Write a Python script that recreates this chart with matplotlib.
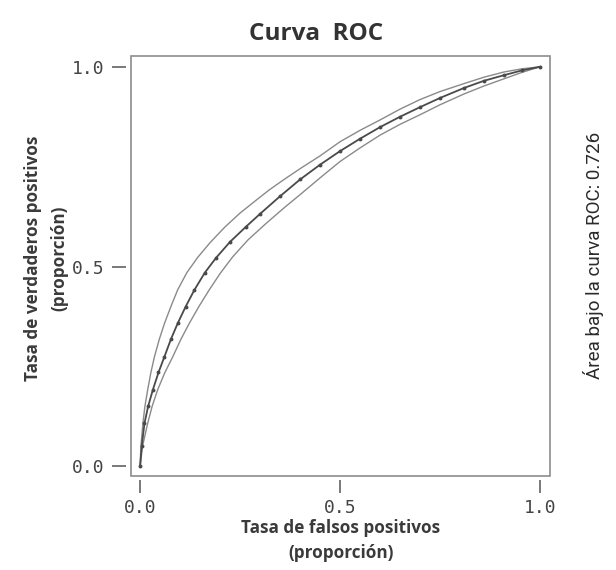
import matplotlib
matplotlib.use("Agg")
from matplotlib import pyplot as plt
from matplotlib.patches import Rectangle

# ROC curve (false positive rate, true positive rate)
fpr_mid = [0, 0.004, 0.011, 0.02, 0.032, 0.046, 0.061, 0.077, 0.094, 0.114,
           0.136, 0.162, 0.19, 0.225, 0.265, 0.30, 0.35, 0.40, 0.45, 0.50,
           0.55, 0.60, 0.65, 0.70, 0.75, 0.81, 0.86, 0.91, 0.955, 1.0]
tpr_mid = [0, 0.05, 0.108, 0.15, 0.192, 0.235, 0.275, 0.318, 0.358, 0.40,
           0.442, 0.485, 0.522, 0.562, 0.60, 0.632, 0.676, 0.718, 0.755, 0.789,
           0.82, 0.849, 0.875, 0.899, 0.922, 0.947, 0.965, 0.979, 0.991, 1.0]

# upper confidence line
fpr_up = [0, 0.002, 0.007, 0.012, 0.019, 0.027, 0.036, 0.048, 0.061, 0.077,
          0.094, 0.117, 0.144, 0.175, 0.211, 0.25, 0.29, 0.323, 0.36, 0.40,
          0.45, 0.50, 0.55, 0.60, 0.65, 0.70, 0.75, 0.81, 0.86, 0.91, 0.955, 1.0]
tpr_up = [0, 0.05, 0.108, 0.15, 0.192, 0.235, 0.275, 0.318, 0.358, 0.40,
          0.442, 0.485, 0.523, 0.56, 0.598, 0.634, 0.666, 0.692, 0.718, 0.745,
          0.777, 0.8125, 0.841, 0.867, 0.894, 0.918, 0.938, 0.958, 0.974, 0.987, 0.995, 1.0]

# lower confidence line
fpr_lo = [0, 0.006, 0.019, 0.03, 0.044, 0.062, 0.082, 0.102, 0.123, 0.147,
          0.173, 0.201, 0.232, 0.27, 0.315, 0.36, 0.40, 0.45, 0.50, 0.55,
          0.60, 0.65, 0.70, 0.75, 0.81, 0.86, 0.91, 0.955, 1.0]
tpr_lo = [0, 0.05, 0.108, 0.15, 0.192, 0.235, 0.275, 0.318, 0.358, 0.40,
          0.442, 0.484, 0.525, 0.567, 0.608, 0.647, 0.68, 0.722, 0.763, 0.797,
          0.829, 0.856, 0.88, 0.905, 0.932, 0.952, 0.97, 0.986, 1.0]

ticks = [0.0, 0.5, 1.0]
tick_labels = ["0.0", "0.5", "1.0"]
auc = 0.726

fig = plt.figure(figsize=(6.16, 5.7), dpi=100)
ax = fig.add_axes([130.5 / 616, 1 - 476 / 570, 419.5 / 616, 420 / 570])

ax.plot(fpr_up, tpr_up, color="#8a8a8a", lw=1.0)
ax.plot(fpr_lo, tpr_lo, color="#8a8a8a", lw=1.0)
ax.plot(fpr_mid, tpr_mid, color="#4a4a4a", lw=1.3, marker="o", ms=1.8,
        mfc="#4a4a4a", mec="#4a4a4a")

ax.set_xlim(-0.024, 1.025)
ax.set_ylim(-0.024, 1.027)

# frame drawn separately so the ticks can sit a little away from it
for s in ax.spines.values():
    s.set_visible(False)
ax.spines["left"].set_position(("outward", 3))
ax.spines["bottom"].set_position(("outward", 3))
ax.add_patch(Rectangle((0, 0), 1, 1, transform=ax.transAxes, fill=False,
                       edgecolor="#8c8c8c", lw=1.2, clip_on=False))

ax.set_xticks(ticks)
ax.set_xticklabels(tick_labels)
ax.set_yticks(ticks)
ax.set_yticklabels(tick_labels)
ax.tick_params(axis="y", direction="out", length=10, width=1.1, color="#555555",
               pad=5.8, labelsize=13, labelcolor="#444444")
ax.tick_params(axis="x", direction="out", length=9.5, width=1.1, color="#555555",
               pad=4.3, labelsize=13, labelcolor="#444444")
for lab in ax.get_xticklabels() + ax.get_yticklabels():
    lab.set_family("DejaVu Sans Mono")

fig.text(316 / 616, 1 - 34 / 570, "Curva  ROC", ha="center", va="center",
         family="Open Sans", weight="bold", size=17.5, color="#333333")

lab_kw = dict(ha="center", va="center", family="Open Sans", weight="bold",
              size=12.3, color="#3a3a3a")
fig.text(341 / 616, 1 - 528 / 570, "Tasa de falsos positivos", **lab_kw)
fig.text(341 / 616, 1 - 553 / 570, "(proporción)", **lab_kw)
fig.text(33 / 616, 1 - 258 / 570, "Tasa de verdaderos positivos", rotation=90, **lab_kw)
fig.text(59 / 616, 1 - 258 / 570, "(proporción)", rotation=90, **lab_kw)

fig.text(593 / 616, 1 - 255 / 570, "Área bajo la curva ROC: %.3f" % auc,
         ha="center", va="center", rotation=90, family="Roboto",
         weight="normal", size=13.5, color="#2a2a2a")

plt.savefig("out.png", dpi=100)
